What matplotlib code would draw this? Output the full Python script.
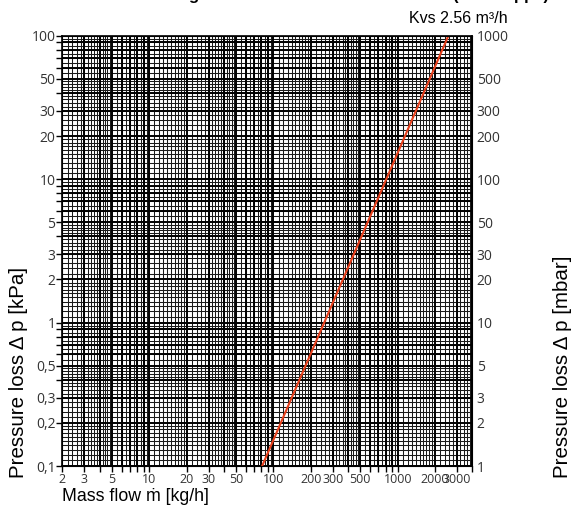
import numpy as np
import matplotlib
matplotlib.use('Agg')
import matplotlib.pyplot as plt
from matplotlib.ticker import FixedLocator, NullFormatter

# characteristic line of the valve
mass_flow = [81, 2560]        # kg/h
pressure_kpa = [0.1, 100]     # kPa

x_ticks = [2, 3, 5, 10, 20, 30, 50, 100, 200, 300, 500, 1000, 2000, 3000]
x_labels = ['2', '3', '5', '10', '20', '30', '50', '100', '200', '300', '500', '1000', '2000', '3000']
y_ticks = [0.1, 0.2, 0.3, 0.5, 1, 2, 3, 5, 10, 20, 30, 50, 100]
y_labels = ['0,1', '0,2', '0,3', '0,5', '1', '2', '3', '5', '10', '20', '30', '50', '100']
y2_labels = ['1', '2', '3', '5', '10', '20', '30', '50', '100', '200', '300', '500', '1000']

title = 'Pressure loss diagram for the radiator valve insert (valve appl.)'
kvs_text = 'Kvs 2.56 m³/h'

fig = plt.figure(figsize=(5.84, 5.11), dpi=100)
ax = fig.add_axes([0.107, 0.088, 0.702, 0.842])
ax.set_xscale('log')
ax.set_yscale('log')
ax.set_xlim(2, 4000)
ax.set_ylim(0.1, 100)


def fine_positions(lo, hi):
    # log paper subdivisions: 0.1 steps 1-2, 0.2 steps 2-5, 0.5 steps 5-10
    pos = []
    for e in range(int(np.floor(np.log10(lo))), int(np.ceil(np.log10(hi))) + 1):
        d = 10.0 ** e
        pos += list(np.arange(1.1, 2.0, 0.1) * d)
        pos += list(np.arange(2.2, 5.0, 0.2) * d)
        pos += list(np.arange(5.5, 10.0, 0.5) * d)
    return [p for p in pos if lo < p < hi]


def int_positions(lo, hi):
    pos = []
    for e in range(int(np.floor(np.log10(lo))), int(np.ceil(np.log10(hi))) + 1):
        pos += [m * 10.0 ** e for m in range(1, 10)]
    return [p for p in pos if lo <= p <= hi]


for p in fine_positions(2, 4000):
    ax.axvline(p, color='#1a1a1a', lw=0.75, zorder=1)
for p in fine_positions(0.1, 100):
    ax.axhline(p, color='#1a1a1a', lw=0.75, zorder=1)
for p in int_positions(2, 4000):
    ax.axvline(p, color='black', lw=1.4, zorder=1)
for p in int_positions(0.1, 100):
    ax.axhline(p, color='black', lw=1.4, zorder=1)

ax.plot(mass_flow, pressure_kpa, color='#e8401c', lw=1.5, zorder=3)

tick_font = 'Open Sans'
ax.xaxis.set_major_locator(FixedLocator(x_ticks))
ax.set_xticklabels(x_labels, fontfamily=tick_font, fontsize=9, color='#333333')
ax.xaxis.set_minor_locator(FixedLocator(int_positions(2, 4000)))
ax.xaxis.set_minor_formatter(NullFormatter())
ax.yaxis.set_major_locator(FixedLocator(y_ticks))
ax.set_yticklabels(y_labels, fontfamily=tick_font, fontsize=10, color='#333333')
ax.yaxis.set_minor_locator(FixedLocator(int_positions(0.1, 100)))
ax.yaxis.set_minor_formatter(NullFormatter())
ax.tick_params(which='both', direction='out', length=4, width=1, pad=1, color='black')
for s in ax.spines.values():
    s.set_linewidth(1.2)

ax2 = ax.twinx()
ax2.set_yscale('log')
ax2.set_ylim(1, 1000)
ax2.yaxis.set_major_locator(FixedLocator([v * 10 for v in y_ticks]))
ax2.set_yticklabels(y2_labels, fontfamily=tick_font, fontsize=10, color='#333333')
ax2.yaxis.set_minor_locator(FixedLocator([]))
ax2.tick_params(length=0, pad=3)

lab_font = ['Liberation Sans', 'DejaVu Sans']
ax.set_xlabel('Mass flow \u1e41 [kg/h]', fontfamily=lab_font, fontsize=12.8)
ax.xaxis.set_label_coords(0.0, -0.05)
ax.xaxis.label.set_ha('left')
ax.xaxis.label.set_va('top')
ax.set_ylabel('Pressure loss Δ p [kPa]', fontfamily=lab_font, fontsize=14.8)
ax.yaxis.set_label_coords(-0.084, -0.028)
ax.yaxis.label.set_ha('left')
ax2.set_ylabel('Pressure loss Δ p [mbar]', fontfamily=lab_font, fontsize=14.8)
ax2.yaxis.set_label_coords(1.196, -0.028)
ax2.yaxis.label.set_ha('left')

fig.text(0.87, 0.963, kvs_text, fontfamily=lab_font, fontsize=11.5, ha='right', va='center')
fig.text(0.94, 1.0, title, fontfamily=lab_font, fontsize=12, fontweight='bold',
         ha='right', va='baseline')

fig.savefig('out.png', dpi=100)
